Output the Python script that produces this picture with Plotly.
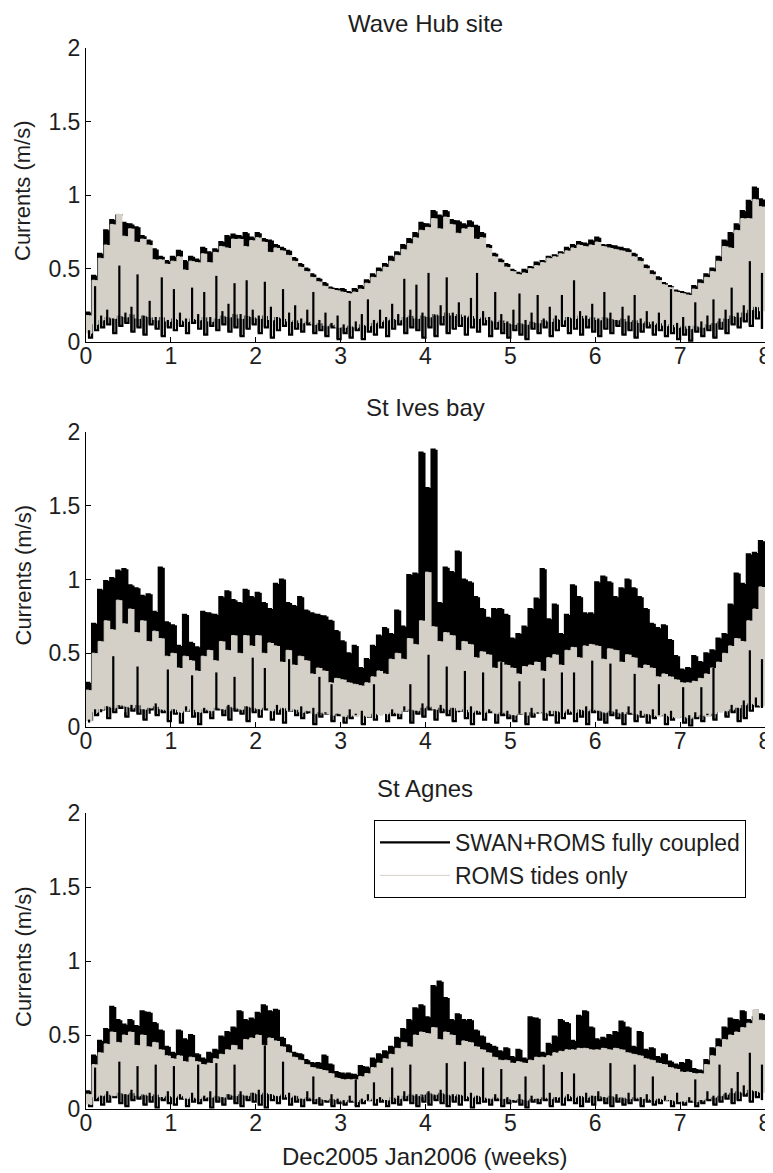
import numpy as np
import plotly.graph_objects as go

# two samples per day (one flood/ebb maximum and one slack minimum), in weeks
step = 1 / 14
weeks = np.arange(112) * step

# ---- Wave Hub site ----
wavehub_coupled_max = [
    0.20, 0.45, 0.60, 0.76, 0.83, 0.86, 0.81, 0.80, 0.78, 0.72, 0.69, 0.63, 0.58, 0.55,
    0.58, 0.62, 0.55, 0.58, 0.56, 0.64, 0.61, 0.63, 0.68, 0.72, 0.73, 0.72, 0.74, 0.71,
    0.74, 0.70, 0.69, 0.66, 0.64, 0.62, 0.57, 0.53, 0.50, 0.46, 0.43, 0.40, 0.37, 0.36,
    0.36, 0.34, 0.36, 0.38, 0.42, 0.46, 0.50, 0.53, 0.58, 0.61, 0.66, 0.70, 0.74, 0.81,
    0.80, 0.89, 0.86, 0.89, 0.83, 0.82, 0.80, 0.82, 0.79, 0.74, 0.66, 0.60, 0.56, 0.53,
    0.49, 0.47, 0.49, 0.51, 0.54, 0.55, 0.58, 0.59, 0.61, 0.64, 0.66, 0.68, 0.67, 0.69,
    0.71, 0.66, 0.66, 0.65, 0.64, 0.63, 0.60, 0.57, 0.52, 0.48, 0.44, 0.40, 0.38, 0.35,
    0.34, 0.33, 0.38, 0.42, 0.46, 0.50, 0.58, 0.69, 0.74, 0.80, 0.89, 0.96, 1.05, 0.97,
]
wavehub_coupled_min = [
    0.03, 0.08, 0.10, 0.12, 0.06, 0.11, 0.13, 0.07, 0.10, 0.05, 0.12, 0.09, 0.04, 0.10,
    0.08, 0.11, 0.06, 0.13, 0.09, 0.05, 0.11, 0.08, 0.12, 0.07, 0.10, 0.04, 0.09, 0.12,
    0.06, 0.10, 0.03, 0.08, 0.11, 0.05, 0.09, 0.07, 0.12, 0.06, 0.08, 0.04, 0.10, 0.02,
    0.06, 0.03, 0.08, 0.02, 0.07, 0.05, 0.10, 0.04, 0.09, 0.12, 0.06, 0.10, 0.08, 0.03,
    0.10, 0.04, 0.12, 0.06, 0.09, 0.11, 0.05, 0.10, 0.07, 0.12, 0.04, 0.09, 0.06, 0.03,
    0.08, 0.05, 0.02, 0.09, 0.06, 0.10, 0.04, 0.08, 0.11, 0.06, 0.09, 0.05, 0.10, 0.07,
    0.04, 0.09, 0.06, 0.11, 0.05, 0.08, 0.03, 0.07, 0.10, 0.05, 0.08, 0.04, 0.06, 0.02,
    0.05, 0.01, 0.07, 0.04, 0.08, 0.03, 0.09, 0.06, 0.12, 0.10, 0.14, 0.11, 0.16, 0.09,
]
# how far up each falling limb of the coupled run shows through the tides-only band
wavehub_coupled_exposed = [
    0.08, 0.38, 0.18, 0.22, 0.16, 0.52, 0.20, 0.24, 0.46, 0.18, 0.28, 0.17, 0.44, 0.15,
    0.36, 0.20, 0.16, 0.37, 0.19, 0.34, 0.17, 0.45, 0.21, 0.26, 0.40, 0.19, 0.42, 0.22,
    0.18, 0.41, 0.24, 0.17, 0.36, 0.20, 0.25, 0.16, 0.22, 0.34, 0.15, 0.20, 0.13, 0.18,
    0.12, 0.28, 0.14, 0.19, 0.29, 0.15, 0.22, 0.17, 0.26, 0.19, 0.43, 0.22, 0.39, 0.20,
    0.47, 0.18, 0.25, 0.44, 0.20, 0.27, 0.18, 0.30, 0.47, 0.21, 0.17, 0.34, 0.19, 0.14,
    0.22, 0.33, 0.15, 0.20, 0.32, 0.16, 0.24, 0.18, 0.32, 0.17, 0.42, 0.21, 0.18, 0.26,
    0.16, 0.34, 0.20, 0.15, 0.24, 0.18, 0.32, 0.16, 0.21, 0.14, 0.20, 0.15, 0.36, 0.13,
    0.17, 0.11, 0.27, 0.14, 0.18, 0.29, 0.16, 0.22, 0.37, 0.20, 0.25, 0.55, 0.22, 0.47,
]
wavehub_tides_max = [
    0.18, 0.42, 0.57, 0.66, 0.80, 0.87, 0.72, 0.77, 0.68, 0.70, 0.66, 0.56, 0.56, 0.53,
    0.55, 0.58, 0.49, 0.55, 0.54, 0.60, 0.54, 0.61, 0.65, 0.64, 0.70, 0.70, 0.65, 0.69,
    0.71, 0.68, 0.61, 0.64, 0.62, 0.59, 0.55, 0.51, 0.48, 0.44, 0.41, 0.38, 0.36, 0.35,
    0.34, 0.33, 0.34, 0.36, 0.40, 0.44, 0.48, 0.51, 0.55, 0.59, 0.63, 0.67, 0.71, 0.76,
    0.78, 0.84, 0.77, 0.85, 0.80, 0.74, 0.77, 0.78, 0.70, 0.71, 0.64, 0.58, 0.54, 0.51,
    0.48, 0.46, 0.47, 0.50, 0.52, 0.54, 0.57, 0.58, 0.60, 0.62, 0.64, 0.66, 0.65, 0.66,
    0.68, 0.65, 0.64, 0.63, 0.62, 0.61, 0.58, 0.55, 0.50, 0.46, 0.42, 0.39, 0.37, 0.34,
    0.33, 0.32, 0.36, 0.40, 0.44, 0.48, 0.55, 0.65, 0.64, 0.76, 0.84, 0.84, 0.97, 0.92,
]
wavehub_tides_min = [
    0.06, 0.12, 0.15, 0.17, 0.16, 0.18, 0.17, 0.19, 0.16, 0.18, 0.17, 0.15, 0.17, 0.14,
    0.16, 0.15, 0.14, 0.16, 0.15, 0.17, 0.14, 0.16, 0.18, 0.17, 0.19, 0.16, 0.18, 0.17,
    0.16, 0.18, 0.15, 0.17, 0.16, 0.14, 0.15, 0.13, 0.14, 0.12, 0.13, 0.11, 0.12, 0.10,
    0.10, 0.11, 0.10, 0.12, 0.11, 0.13, 0.14, 0.15, 0.16, 0.15, 0.17, 0.18, 0.16, 0.18,
    0.17, 0.19, 0.18, 0.20, 0.18, 0.19, 0.17, 0.18, 0.16, 0.17, 0.15, 0.14, 0.15, 0.13,
    0.12, 0.13, 0.12, 0.14, 0.13, 0.15, 0.14, 0.16, 0.15, 0.17, 0.16, 0.18, 0.16, 0.17,
    0.15, 0.17, 0.16, 0.15, 0.16, 0.14, 0.15, 0.13, 0.14, 0.12, 0.13, 0.11, 0.12, 0.10,
    0.11, 0.09, 0.11, 0.10, 0.12, 0.13, 0.14, 0.16, 0.18, 0.17, 0.20, 0.22, 0.24, 0.21,
]

# ---- St Ives bay ----
stives_coupled_max = [
    0.30, 0.70, 0.93, 0.99, 1.01, 1.06, 1.07, 0.96, 0.94, 0.89, 0.90, 0.78, 1.08, 0.71,
    0.69, 0.55, 0.76, 0.57, 0.54, 0.78, 0.77, 0.76, 0.88, 0.92, 0.86, 0.84, 0.93, 0.88,
    0.91, 0.84, 0.80, 0.97, 1.00, 0.84, 0.82, 0.88, 0.79, 0.77, 0.76, 0.75, 0.72, 0.65,
    0.58, 0.50, 0.55, 0.40, 0.46, 0.55, 0.62, 0.67, 0.63, 0.79, 0.68, 1.03, 1.04, 1.86,
    1.62, 1.88, 0.84, 1.08, 1.05, 1.19, 1.00, 0.98, 0.88, 0.80, 0.74, 0.80, 0.80, 0.76,
    0.60, 0.63, 0.68, 0.80, 0.87, 1.07, 0.73, 0.83, 0.63, 0.76, 0.96, 0.88, 0.77, 0.77,
    0.98, 1.02, 0.98, 0.88, 0.94, 1.00, 0.94, 0.88, 0.80, 0.70, 0.67, 0.69, 0.59, 0.48,
    0.39, 0.40, 0.48, 0.44, 0.50, 0.52, 0.60, 0.63, 0.83, 1.04, 0.97, 1.17, 1.18, 1.26,
]
stives_coupled_min = [
    0.05, 0.08, 0.12, 0.06, 0.10, 0.13, 0.07, 0.11, 0.09, 0.05, 0.12, 0.08, 0.10, 0.04,
    0.09, 0.03, 0.11, 0.07, 0.02, 0.10, 0.06, 0.12, 0.08, 0.05, 0.11, 0.09, 0.04, 0.10,
    0.07, 0.12, 0.05, 0.09, 0.03, 0.11, 0.08, 0.06, 0.10, 0.02, 0.07, 0.09, 0.04, 0.08,
    0.03, 0.06, 0.09, 0.02, 0.07, 0.05, 0.10, 0.04, 0.08, 0.06, 0.11, 0.03, 0.09, 0.07,
    0.12, 0.05, 0.10, 0.08, 0.04, 0.11, 0.06, 0.02, 0.09, 0.05, 0.10, 0.03, 0.08, 0.06,
    0.04, 0.09, 0.02, 0.07, 0.10, 0.05, 0.08, 0.03, 0.06, 0.09, 0.04, 0.07, 0.02, 0.10,
    0.05, 0.03, 0.08, 0.06, 0.02, 0.09, 0.04, 0.07, 0.03, 0.06, 0.08, 0.02, 0.05, 0.07,
    0.03, 0.01, 0.06, 0.04, 0.08, 0.05, 0.12, 0.07, 0.10, 0.04, 0.06, 0.11, 0.14, 0.13,
]
stives_coupled_exposed = [
    0.03, 0.12, 0.10, 0.14, 0.48, 0.13, 0.10, 0.15, 0.41, 0.12, 0.09, 0.16, 0.11, 0.39,
    0.12, 0.08, 0.14, 0.35, 0.10, 0.13, 0.09, 0.37, 0.12, 0.15, 0.34, 0.11, 0.14, 0.47,
    0.12, 0.40, 0.10, 0.15, 0.12, 0.46, 0.11, 0.14, 0.09, 0.13, 0.34, 0.10, 0.29, 0.09,
    0.07, 0.12, 0.08, 0.11, 0.07, 0.29, 0.10, 0.08, 0.12, 0.09, 0.14, 0.29, 0.11, 0.16,
    0.49, 0.12, 0.15, 0.41, 0.13, 0.10, 0.38, 0.14, 0.11, 0.37, 0.12, 0.09, 0.44, 0.11,
    0.08, 0.31, 0.10, 0.13, 0.09, 0.33, 0.11, 0.08, 0.37, 0.12, 0.37, 0.10, 0.14, 0.45,
    0.11, 0.09, 0.43, 0.12, 0.10, 0.14, 0.36, 0.11, 0.08, 0.12, 0.29, 0.09, 0.11, 0.07,
    0.27, 0.08, 0.10, 0.27, 0.09, 0.40, 0.12, 0.10, 0.15, 0.13, 0.18, 0.52, 0.20, 0.46,
]
stives_tides_max = [
    0.25, 0.50, 0.58, 0.72, 0.66, 0.86, 0.70, 0.80, 0.64, 0.72, 0.58, 0.65, 0.60, 0.48,
    0.50, 0.40, 0.48, 0.45, 0.38, 0.48, 0.52, 0.45, 0.58, 0.52, 0.62, 0.50, 0.62, 0.55,
    0.62, 0.50, 0.57, 0.55, 0.44, 0.52, 0.42, 0.48, 0.45, 0.36, 0.40, 0.38, 0.30, 0.33,
    0.32, 0.30, 0.29, 0.28, 0.30, 0.34, 0.38, 0.36, 0.46, 0.50, 0.46, 0.60, 0.56, 0.72,
    1.05, 0.68, 0.58, 0.64, 0.62, 0.52, 0.58, 0.56, 0.47, 0.51, 0.49, 0.40, 0.44, 0.42,
    0.40, 0.36, 0.41, 0.42, 0.44, 0.38, 0.47, 0.49, 0.42, 0.52, 0.54, 0.47, 0.55, 0.56,
    0.55, 0.46, 0.53, 0.52, 0.44, 0.49, 0.47, 0.40, 0.42, 0.40, 0.34, 0.36, 0.34, 0.32,
    0.30, 0.30, 0.31, 0.33, 0.36, 0.40, 0.44, 0.50, 0.55, 0.60, 0.58, 0.72, 0.80, 0.95,
]
stives_tides_min = [
    0.04, 0.10, 0.12, 0.14, 0.13, 0.15, 0.14, 0.13, 0.15, 0.12, 0.13, 0.14, 0.12, 0.11,
    0.12, 0.10, 0.11, 0.12, 0.10, 0.12, 0.11, 0.13, 0.12, 0.14, 0.13, 0.12, 0.14, 0.13,
    0.12, 0.13, 0.11, 0.12, 0.13, 0.11, 0.12, 0.10, 0.11, 0.09, 0.10, 0.09, 0.08, 0.09,
    0.07, 0.08, 0.07, 0.08, 0.07, 0.09, 0.08, 0.09, 0.10, 0.09, 0.11, 0.12, 0.11, 0.13,
    0.14, 0.12, 0.13, 0.12, 0.13, 0.11, 0.12, 0.10, 0.11, 0.10, 0.11, 0.09, 0.10, 0.09,
    0.08, 0.09, 0.08, 0.10, 0.09, 0.10, 0.09, 0.11, 0.10, 0.11, 0.10, 0.12, 0.11, 0.12,
    0.11, 0.10, 0.11, 0.10, 0.09, 0.10, 0.09, 0.08, 0.09, 0.08, 0.07, 0.08, 0.07, 0.06,
    0.07, 0.06, 0.07, 0.08, 0.07, 0.09, 0.10, 0.11, 0.12, 0.13, 0.15, 0.16, 0.15, 0.14,
]

# ---- St Agnes ----
stagnes_coupled_max = [
    0.12, 0.36, 0.46, 0.54, 0.69, 0.60, 0.57, 0.60, 0.56, 0.66, 0.65, 0.58, 0.53, 0.42,
    0.38, 0.53, 0.47, 0.50, 0.37, 0.34, 0.38, 0.40, 0.49, 0.52, 0.55, 0.66, 0.60, 0.61,
    0.65, 0.70, 0.66, 0.67, 0.48, 0.43, 0.38, 0.37, 0.33, 0.31, 0.31, 0.36, 0.30, 0.25,
    0.24, 0.24, 0.23, 0.29, 0.28, 0.34, 0.37, 0.39, 0.42, 0.48, 0.54, 0.60, 0.68, 0.70,
    0.62, 0.83, 0.86, 0.75, 0.60, 0.64, 0.60, 0.60, 0.53, 0.49, 0.44, 0.42, 0.39, 0.41,
    0.35, 0.40, 0.34, 0.62, 0.61, 0.38, 0.44, 0.49, 0.60, 0.58, 0.46, 0.63, 0.66, 0.55,
    0.47, 0.48, 0.50, 0.52, 0.59, 0.55, 0.42, 0.52, 0.40, 0.41, 0.35, 0.37, 0.32, 0.30,
    0.31, 0.33, 0.27, 0.26, 0.33, 0.41, 0.47, 0.55, 0.61, 0.60, 0.66, 0.60, 0.62, 0.64,
]
stagnes_coupled_min = [
    0.02, 0.06, 0.03, 0.05, 0.08, 0.04, 0.02, 0.06, 0.07, 0.03, 0.05, 0.01, 0.06, 0.04,
    0.03, 0.07, 0.02, 0.05, 0.04, 0.06, 0.01, 0.05, 0.03, 0.07, 0.04, 0.02, 0.06, 0.05,
    0.03, 0.01, 0.06, 0.04, 0.07, 0.03, 0.05, 0.02, 0.06, 0.04, 0.03, 0.05, 0.02, 0.04,
    0.03, 0.05, 0.02, 0.04, 0.06, 0.03, 0.05, 0.02, 0.04, 0.03, 0.06, 0.04, 0.02, 0.05,
    0.03, 0.06, 0.04, 0.02, 0.05, 0.03, 0.06, 0.01, 0.04, 0.05, 0.03, 0.06, 0.02, 0.04,
    0.05, 0.03, 0.01, 0.05, 0.04, 0.06, 0.02, 0.05, 0.03, 0.06, 0.04, 0.02, 0.05, 0.03,
    0.06, 0.04, 0.02, 0.05, 0.03, 0.04, 0.06, 0.02, 0.05, 0.03, 0.04, 0.06, 0.02, 0.04,
    0.03, 0.05, 0.02, 0.04, 0.06, 0.03, 0.05, 0.07, 0.04, 0.06, 0.09, 0.05, 0.08, 0.06,
]
stagnes_coupled_exposed = [
    0.03, 0.28, 0.09, 0.12, 0.08, 0.32, 0.10, 0.13, 0.29, 0.09, 0.11, 0.30, 0.08, 0.12,
    0.29, 0.10, 0.07, 0.11, 0.30, 0.09, 0.12, 0.31, 0.08, 0.10, 0.30, 0.12, 0.09, 0.11,
    0.13, 0.43, 0.10, 0.08, 0.32, 0.11, 0.09, 0.07, 0.12, 0.22, 0.08, 0.06, 0.10, 0.07,
    0.06, 0.09, 0.20, 0.07, 0.10, 0.18, 0.08, 0.06, 0.28, 0.09, 0.12, 0.30, 0.10, 0.08,
    0.12, 0.09, 0.13, 0.31, 0.10, 0.08, 0.32, 0.11, 0.09, 0.28, 0.07, 0.10, 0.27, 0.08,
    0.06, 0.10, 0.22, 0.09, 0.07, 0.30, 0.11, 0.08, 0.25, 0.10, 0.24, 0.07, 0.11, 0.09,
    0.12, 0.08, 0.31, 0.10, 0.07, 0.11, 0.30, 0.08, 0.10, 0.22, 0.07, 0.09, 0.06, 0.11,
    0.05, 0.08, 0.20, 0.06, 0.12, 0.09, 0.30, 0.11, 0.14, 0.25, 0.16, 0.38, 0.12, 0.30,
]
stagnes_tides_max = [
    0.10, 0.30, 0.38, 0.44, 0.52, 0.45, 0.50, 0.52, 0.43, 0.50, 0.42, 0.45, 0.40, 0.36,
    0.34, 0.36, 0.32, 0.35, 0.32, 0.30, 0.31, 0.34, 0.37, 0.40, 0.43, 0.40, 0.47, 0.48,
    0.50, 0.43, 0.48, 0.46, 0.42, 0.38, 0.35, 0.33, 0.30, 0.28, 0.27, 0.26, 0.24, 0.21,
    0.20, 0.20, 0.20, 0.22, 0.24, 0.28, 0.31, 0.34, 0.37, 0.41, 0.45, 0.42, 0.50, 0.52,
    0.51, 0.55, 0.47, 0.52, 0.50, 0.43, 0.46, 0.45, 0.42, 0.40, 0.38, 0.35, 0.33, 0.33,
    0.31, 0.32, 0.31, 0.33, 0.35, 0.35, 0.36, 0.38, 0.39, 0.40, 0.40, 0.41, 0.41, 0.40,
    0.40, 0.41, 0.40, 0.41, 0.40, 0.38, 0.37, 0.36, 0.34, 0.33, 0.31, 0.30, 0.28, 0.27,
    0.25, 0.25, 0.24, 0.24, 0.30, 0.36, 0.42, 0.47, 0.50, 0.52, 0.55, 0.58, 0.67, 0.60,
]
stagnes_tides_min = [
    0.03, 0.08, 0.09, 0.10, 0.09, 0.11, 0.10, 0.11, 0.09, 0.10, 0.09, 0.10, 0.08, 0.09,
    0.08, 0.09, 0.07, 0.08, 0.07, 0.08, 0.08, 0.09, 0.08, 0.10, 0.09, 0.10, 0.09, 0.11,
    0.10, 0.11, 0.10, 0.09, 0.10, 0.08, 0.09, 0.07, 0.08, 0.07, 0.07, 0.06, 0.07, 0.06,
    0.05, 0.06, 0.05, 0.06, 0.06, 0.07, 0.07, 0.06, 0.08, 0.07, 0.09, 0.10, 0.09, 0.10,
    0.11, 0.10, 0.11, 0.10, 0.09, 0.10, 0.09, 0.08, 0.09, 0.08, 0.07, 0.08, 0.07, 0.07,
    0.06, 0.07, 0.06, 0.07, 0.07, 0.08, 0.07, 0.08, 0.08, 0.09, 0.08, 0.09, 0.08, 0.09,
    0.09, 0.08, 0.09, 0.08, 0.08, 0.07, 0.08, 0.07, 0.07, 0.06, 0.07, 0.06, 0.06, 0.05,
    0.05, 0.06, 0.05, 0.06, 0.07, 0.08, 0.09, 0.10, 0.11, 0.12, 0.11, 0.13, 0.12, 0.11,
]

sites = [
    ("Wave Hub site", wavehub_coupled_max, wavehub_coupled_min, wavehub_coupled_exposed,
     wavehub_tides_max, wavehub_tides_min),
    ("St Ives bay", stives_coupled_max, stives_coupled_min, stives_coupled_exposed,
     stives_tides_max, stives_tides_min),
    ("St Agnes", stagnes_coupled_max, stagnes_coupled_min, stagnes_coupled_exposed,
     stagnes_tides_max, stagnes_tides_min),
]

coupled_color = "black"
tides_color = "#d4d0c8"
text_color = "#1e1e1e"
font_family = "Liberation Sans, Arial, sans-serif"

# the page puts the figure 8px in from the top-left corner of the window,
# so positions below are window pixels and get shifted back by 8
W, H = 765, 1165
OFF = 8
x_left, x_right = 86, 765
panel_px = [(48, 342), (432, 727), (813, 1109)]


def px_x(p):
    return (p - OFF) / W


def px_y(p):
    return 1 - (p - OFF) / H


def zigzag(hi, lo):
    # maximum at the start of each half day, minimum half way through it
    x = np.empty(2 * len(hi))
    y = np.empty(2 * len(hi))
    x[0::2] = weeks
    x[1::2] = weeks + step / 2
    y[0::2] = hi
    y[1::2] = lo
    return x, y


band_x = np.append(weeks, 8.0)
fig = go.Figure()

for i, (name, c_max, c_min, c_exp, t_max, t_min) in enumerate(sites):
    xa = "x" if i == 0 else "x{}".format(i + 1)
    ya = "y" if i == 0 else "y{}".format(i + 1)
    common = dict(xaxis=xa, yaxis=ya, hoverinfo="skip", mode="lines")

    # SWAN+ROMS fully coupled (drawn first, underneath)
    zx, zy = zigzag(c_max, c_min)
    fig.add_trace(go.Scatter(
        x=zx, y=zy,
        line=dict(color=coupled_color, width=2.2, shape="hv", simplify=False),
        name="SWAN+ROMS fully coupled", legendgroup="coupled", showlegend=(i == 0),
        **common,
    ))
    # solid black where the coupled maxima rise above the tides-only maxima
    fig.add_trace(go.Scatter(
        x=band_x, y=np.append(t_max, t_max[-1]),
        line=dict(width=0, shape="hv"), showlegend=False, **common,
    ))
    fig.add_trace(go.Scatter(
        x=band_x, y=np.append(c_max, c_max[-1]),
        line=dict(width=0, shape="hv"), fill="tonexty", fillcolor=coupled_color,
        showlegend=False, **common,
    ))

    # ROMS tides only, drawn on top
    fig.add_trace(go.Scatter(
        x=band_x, y=np.append(t_min, t_min[-1]),
        line=dict(width=0, shape="hv"), showlegend=False, **common,
    ))
    fig.add_trace(go.Scatter(
        x=band_x, y=np.append(t_max, t_max[-1]),
        line=dict(width=0, shape="hv"), fill="tonexty", fillcolor=tides_color,
        showlegend=False, **common,
    ))
    gx, gy = zigzag(t_max, t_min)
    fig.add_trace(go.Scatter(
        x=gx, y=gy,
        line=dict(color=tides_color, width=1, shape="hv", simplify=False),
        name="ROMS tides only", legendgroup="tides", showlegend=(i == 0),
        **common,
    ))

    # falling limbs of the coupled run that show through the grey band
    ex, ey = [], []
    for t, lo, up in zip(weeks + step / 2, c_min, c_exp):
        ex += [t, t, None]
        ey += [lo, up, None]
    fig.add_trace(go.Scatter(
        x=ex, y=ey, line=dict(color=coupled_color, width=2.2),
        showlegend=False, **common,
    ))

    top, bottom = panel_px[i]
    axis_common = dict(
        showline=True, linecolor="black", linewidth=1,
        ticks="inside", ticklen=5, tickcolor="black", tickwidth=1,
        showgrid=False, zeroline=False, mirror=False, automargin=False,
        tickfont=dict(family=font_family, size=23, color=text_color),
    )
    fig.layout["xaxis" if i == 0 else "xaxis{}".format(i + 1)] = dict(
        domain=[px_x(x_left), px_x(x_right)], anchor=ya, range=[0, 8],
        tickvals=list(range(9)), ticklabelstandoff=-7, **axis_common,
    )
    fig.layout["yaxis" if i == 0 else "yaxis{}".format(i + 1)] = dict(
        domain=[px_y(bottom), px_y(top)], anchor=xa, range=[0, 2],
        tickvals=[0, 0.5, 1, 1.5, 2], ticktext=["0", "0.5", "1", "1.5", "2"],
        **axis_common,
    )

    # panel title and y label
    fig.add_annotation(
        text=name, xref="paper", yref="paper",
        x=px_x((x_left + x_right) / 2), y=px_y(top - 25),
        xanchor="center", yanchor="middle", showarrow=False,
        font=dict(family=font_family, size=24, color=text_color),
    )
    fig.add_annotation(
        text="Currents (m/s)", xref="paper", yref="paper",
        x=px_x(23), y=px_y((top + bottom) / 2 - 4), textangle=-90,
        xanchor="center", yanchor="middle", showarrow=False,
        font=dict(family=font_family, size=22, color=text_color),
    )

fig.add_annotation(
    text="Dec2005 Jan2006 (weeks)", xref="paper", yref="paper",
    x=px_x((x_left + x_right) / 2), y=px_y(1156),
    xanchor="center", yanchor="middle", showarrow=False,
    font=dict(family=font_family, size=24, color=text_color),
)

fig.update_layout(
    template="none",
    width=W, height=H,
    margin=dict(l=0, r=0, t=0, b=0, pad=0),
    paper_bgcolor="white", plot_bgcolor="white",
    showlegend=True,
    legend=dict(
        x=px_x(374), y=px_y(820), xanchor="left", yanchor="top",
        bgcolor="white", bordercolor="black", borderwidth=1,
        font=dict(family=font_family, size=23, color=text_color),
        tracegroupgap=0, itemwidth=70,
    ),
)

fig.write_html("out.html")
